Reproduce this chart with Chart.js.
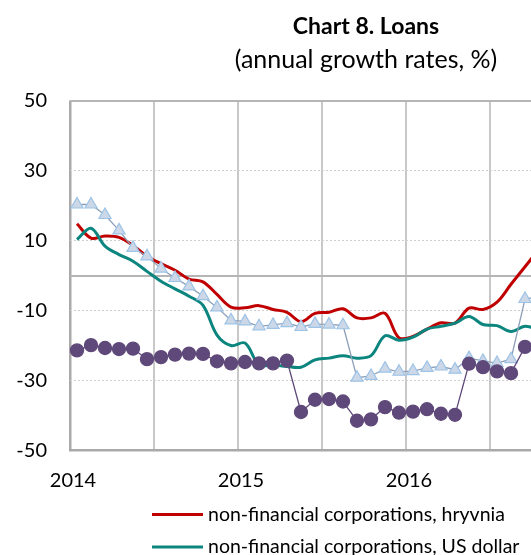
<!DOCTYPE html>
<html>
<head>
<meta charset="utf-8">
<script src="https://cdn.jsdelivr.net/npm/chart.js@4.4.0/dist/chart.umd.min.js"></script>
<style>
  html, body { margin: 0; padding: 0; background: #fff; }
  #frame { width: 531px; height: 555px; overflow: hidden; }
  #graph { display: block; }
</style>
</head>
<body>
<div id="frame"><canvas id="graph" width="732" height="640"></canvas></div>
<script>
// monthly categories, Jan 2014 .. Dec 2016
const years = [2014, 2015, 2016];
const monthNames = ["Jan","Feb","Mar","Apr","May","Jun","Jul","Aug","Sep","Oct","Nov","Dec"];
const categories = years.flatMap(y => monthNames.map(m => m + " " + y));
const yearLabels = ["2014", "2015", "2016"];
const yTickLabels = [-50, -30, -10, 10, 30, 50];

const seriesNames = [
  "non-financial corporations, hryvnia",
  "non-financial corporations, US dollar",
  "households, hryvnia",
  "households, foreign currency",
];

const corpUah = [14.8, 10.7, 11.3, 10.9, 8.6, 5.5, 3.4, 1.5, -1.0, -1.8, -5.4, -9.0,
  -9.2, -8.6, -9.7, -10.5, -13.2, -10.8, -10.5, -9.5, -12.1, -12.1, -10.8, -17.8,
  -17.4, -15.3, -13.5, -13.6, -9.3, -9.7, -7.6, -2.5, 2.5, 7.5];
const corpUsd = [10.3, 13.5, 8.4, 6.0, 4.1, 1.2, -1.6, -3.8, -5.9, -8.5, -17.0, -20.0,
  -19.3, -25.5, -25.6, -26.0, -26.2, -24.1, -23.6, -22.9, -23.6, -22.9, -17.2, -18.5,
  -17.6, -15.3, -14.5, -13.6, -11.7, -14.0, -14.3, -16.0, -14.5, -15.5];
const houseUah = [20.3, 20.3, 17.3, 12.9, 7.9, 5.5, 2.0, -0.7, -3.1, -5.9, -9.1, -12.8,
  -13.1, -14.5, -14.1, -13.6, -14.7, -13.8, -14.0, -14.2, -29.2, -28.7, -26.6, -27.5,
  -27.3, -26.4, -26.0, -26.9, -23.6, -24.4, -25.0, -23.9, -6.7, -6.0];
const houseFx = [-21.4, -19.9, -20.7, -21.0, -20.9, -23.9, -23.3, -22.6, -22.3, -22.4, -24.5, -25.1,
  -24.7, -25.1, -25.1, -24.3, -39.0, -35.5, -35.3, -36.0, -41.5, -41.1, -37.6, -39.2,
  -38.9, -38.2, -39.5, -39.8, -25.2, -26.2, -27.4, -27.9, -20.4];

Chart.defaults.font.family = "Lato";
Chart.defaults.color = "#000";

// legend drawn as a list under the axis
const legendList = {
  id: "legendList",
  afterDraw(chart) {
    const ctx = chart.ctx;
    const area = chart.chartArea;
    ctx.save();
    ctx.font = "19.5px Lato";
    ctx.textBaseline = "middle";
    chart.data.datasets.forEach((ds, i) => {
      const x = area.left + 82;
      const y = area.bottom + 64 + i * 32.5;
      ctx.strokeStyle = ds.borderColor;
      ctx.lineWidth = 3;
      ctx.beginPath();
      ctx.moveTo(x, y);
      ctx.lineTo(x + 51, y);
      ctx.stroke();
      ctx.fillStyle = "#000";
      ctx.fillText(ds.label, x + 56, y);
    });
    ctx.restore();
  }
};

const context = document.getElementById("graph").getContext("2d");
new Chart(context, {
  type: "line",
  data: {
    labels: categories,
    datasets: [
      {
        label: seriesNames[0],
        data: corpUah,
        borderColor: "#C00000",
        borderWidth: 3,
        pointRadius: 0,
        tension: 0.35,
        order: 4,
      },
      {
        label: seriesNames[1],
        data: corpUsd,
        borderColor: "#0B857E",
        borderWidth: 3,
        pointRadius: 0,
        tension: 0.35,
        order: 3,
      },
      {
        label: seriesNames[2],
        data: houseUah,
        borderColor: "#8D9FB8",
        borderWidth: 1.3,
        pointStyle: "triangle",
        pointRadius: 7,
        pointBackgroundColor: "#CCD8E8",
        pointBorderColor: "#9DC3E6",
        pointBorderWidth: 1.2,
        tension: 0,
        order: 2,
      },
      {
        label: seriesNames[3],
        data: houseFx,
        borderColor: "#5F497A",
        borderWidth: 1.3,
        pointStyle: "circle",
        pointRadius: 6.5,
        pointBackgroundColor: "#5F497A",
        pointBorderColor: "#5F497A",
        tension: 0,
        order: 1,
      },
    ],
  },
  options: {
    responsive: false,
    animation: false,
    events: [],
    layout: { padding: 0 },
    plugins: {
      legend: { display: false },
      tooltip: { enabled: false },
      title: {
        display: true,
        text: "Chart 8. Loans",
        font: { size: 23, weight: "bold" },
        color: "#000",
        padding: { top: 13, bottom: 4 },
      },
      subtitle: {
        display: true,
        text: "(annual growth rates, %)",
        font: { size: 25 },
        color: "#000",
        padding: { top: 0, bottom: 26 },
      },
    },
    scales: {
      x: {
        offset: true,
        grid: {
          offset: true,
          drawTicks: false,
          color: c => (c.index % 6 === 0 ? (c.index === 0 ? "#A9A9A9" : "#C8C8C8") : "rgba(0,0,0,0)"),
          lineWidth: c => (c.index === 0 ? 2.5 : 2),
        },
        border: { display: true, color: "#A9A9A9", width: 2.5 },
        ticks: {
          autoSkip: false,
          maxRotation: 0,
          padding: 18,
          labelOffset: -4,
          font: { size: 20 },
          callback: (v, i) => (i % 12 === 0 ? yearLabels[i / 12] : ""),
        },
        afterFit: s => { s.height = 189.5; },
      },
      y: {
        min: -50,
        max: 50,
        position: "left",
        ticks: {
          stepSize: 10,
          padding: 23,
          font: { size: 20 },
          callback: v => (yTickLabels.includes(v) ? String(v) : ""),
        },
        grid: {
          drawTicks: false,
          color: c => ([-30, -10, 10, 30].includes(c.tick.value) ? "#CFCFCF" : "rgba(0,0,0,0)"),
          lineWidth: 1,
        },
        border: { display: false, dash: [2, 2] },
        afterFit: s => { s.width = 70; },
      },
      y2: {
        type: "linear",
        min: -50,
        max: 50,
        position: "right",
        ticks: { display: false, stepSize: 50 },
        grid: {
          drawTicks: false,
          color: c => (c.tick.value === -50 ? "rgba(0,0,0,0)" : "#B5B5B5"),
          lineWidth: 2,
        },
        border: { display: false },
        afterFit: s => { s.width = 158; },
      },
    },
  },
  plugins: [legendList],
});
</script>
</body>
</html>
